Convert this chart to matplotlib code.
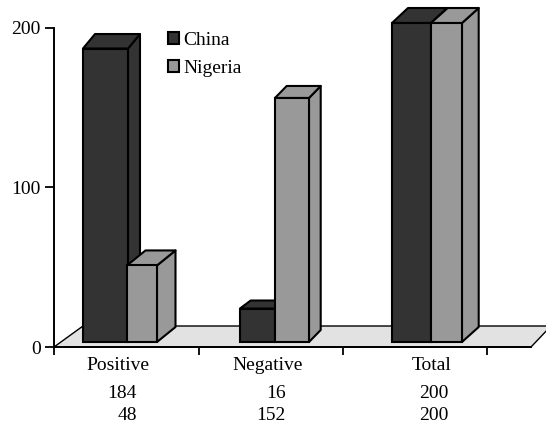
import matplotlib
matplotlib.use("Agg")
import matplotlib.pyplot as plt
from matplotlib.patches import Polygon, Patch

plt.rcParams['font.family'] = ['Liberation Serif', 'DejaVu Serif']

#data
categories = ["Positive", "Negative", "Total"]
china = [184, 21, 200]
nigeria = [48, 153, 200]
china_labels = ["184", "16", "200"]
nigeria_labels = ["48", "152", "200"]
y_ticks = [0, 100, 200]

#layout, in pixels from the y axis
china_left = [29, 186, 338]
china_width = [45, 35, 39]
china_dx = [12, 10.7, 16]
china_dy = [14.5, 8, 15]
nigeria_left = [73, 221, 377]
nigeria_width = [30, 34, 31]
nigeria_dx = [18.5, 11.7, 16.7]
nigeria_dy = [15, 12, 15]
label_center = [64, 214, 378]
number_right = [83, 232, 395]
x_ticks = [0, 144.5, 289, 433]

DARK = "#333333"
GREY = "#999999"
FLOOR = "#e2e2e2"
LW = 1.5
FS = 14
PX = 319 / 200.  #pixels per unit on y
BASE = 5 / PX    #bars stand a little above the axis

fig = plt.figure(figsize=(5.46, 4.30), dpi=100)
ax = fig.add_axes([54 / 546, 83 / 430, 492 / 546, 319 / 430])
ax.set_xlim(0, 492)
ax.set_ylim(0, 200)

#floor
floor = Polygon([(0, 0), (477, 0), (497, 21 / PX), (29, 21 / PX)],
                closed=True, facecolor=FLOOR, edgecolor="black",
                linewidth=1.0, clip_on=False, zorder=1)
ax.add_patch(floor)


def draw_bar(left, width, value, dx, dy, color, z):
    top = BASE + value
    ax.bar(left, value, width, bottom=BASE, align="edge", color=color,
           edgecolor="black", linewidth=LW, clip_on=False, zorder=z + 0.2)
    right = left + width
    side = [(right, BASE), (right + dx, BASE + dy / PX),
            (right + dx, top + dy / PX), (right, top)]
    lid = [(left, top), (left + dx, top + dy / PX),
           (right + dx, top + dy / PX), (right, top)]
    for pts in (side, lid):
        ax.add_patch(Polygon(pts, closed=True, facecolor=color, edgecolor="black",
                             linewidth=LW, joinstyle="round", clip_on=False, zorder=z))


for i in range(len(categories)):
    draw_bar(china_left[i], china_width[i], china[i], china_dx[i], china_dy[i], DARK, 2 + i)
    draw_bar(nigeria_left[i], nigeria_width[i], nigeria[i], nigeria_dx[i], nigeria_dy[i], GREY, 2.5 + i)

#axes
for s in ["top", "right"]:
    ax.spines[s].set_visible(False)
ax.spines["left"].set_linewidth(1.4)
ax.spines["bottom"].set_linewidth(1.4)
ax.spines["bottom"].set_bounds(0, 477)
ax.spines["left"].set_zorder(10)
ax.spines["bottom"].set_zorder(10)

ax.set_yticks(y_ticks)
ax.set_yticklabels([str(v) for v in y_ticks], fontsize=FS)
ax.tick_params(axis="y", direction="out", length=6.5, width=1.3, pad=3)
ax.set_xticks(x_ticks)
ax.set_xticklabels([])
ax.tick_params(axis="x", direction="out", length=6, width=1.3)

#labels under the axis
trans = ax.get_xaxis_transform()
for i, name in enumerate(categories):
    ax.annotate(name, (label_center[i], 0), xytext=(0, -18 * 0.72), xycoords=trans,
                textcoords="offset points", ha="center", va="center", fontsize=FS)
    ax.annotate(china_labels[i], (number_right[i], 0), xytext=(0, -46 * 0.72), xycoords=trans,
                textcoords="offset points", ha="right", va="center", fontsize=FS)
    ax.annotate(nigeria_labels[i], (number_right[i], 0), xytext=(0, -69 * 0.72), xycoords=trans,
                textcoords="offset points", ha="right", va="center", fontsize=FS)

#legend
handles = [Patch(facecolor=DARK, edgecolor="black", linewidth=LW, label="China"),
           Patch(facecolor=GREY, edgecolor="black", linewidth=LW, label="Nigeria")]
ax.legend(handles=handles, frameon=False, fontsize=FS, handlelength=0.55, handleheight=0.55,
          handletextpad=0.25, labelspacing=0.55, borderpad=0, borderaxespad=0,
          loc="upper left", bbox_to_anchor=((168 - 54) / 492, 1 - 4 / 319))

fig.savefig("out.png", dpi=100)
